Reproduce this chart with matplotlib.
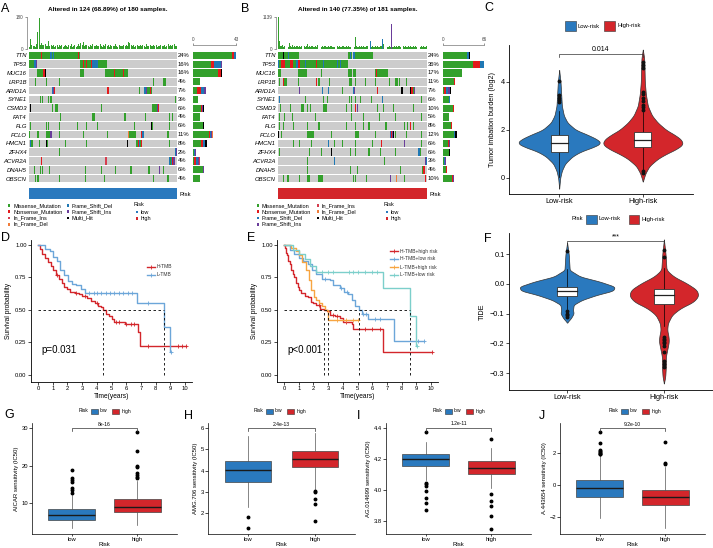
import numpy as np
import matplotlib
matplotlib.use("Agg")
import matplotlib.pyplot as plt
import matplotlib.transforms as mtrans
from matplotlib.patches import Rectangle

plt.rcParams['font.family'] = ['Liberation Sans', 'DejaVu Sans']

# ---------------- oncoplot data ----------------
GENES = ['TTN', 'TP53', 'MUC16', 'LRP1B', 'ARID1A', 'SYNE1', 'CSMD3', 'FAT4',
         'FLG', 'PCLO', 'HMCN1', 'ZFHX4', 'ACVR2A', 'DNAH5', 'OBSCN']
A_pct = ['24%', '16%', '16%', '4%', '7%', '3%', '6%', '4%', '6%', '11%', '8%', '2%', '4%', '6%', '4%']
B_pct = ['24%', '36%', '17%', '11%', '7%', '6%', '10%', '5%', '8%', '12%', '6%', '6%', '3%', '4%', '10%']

# "first-last:code" per gene; M missense, N nonsense, D fs del, I fs ins,
# S in-frame ins, L in-frame del, K multi hit
A_muts = [
    "0-9:M 10:N 11-17:M 18:D 19:M 20:D 21-40:M 41:N 42:M",
    "0-3:M 4-5:D 6:I 43-44:M 45:N 46-47:M 48:N 49-51:M 52:N 53-57:D 58-64:M",
    "7-11:M 12:N 13:K 43-45:M 64-70:M 71:N 72-78:M 79:N 80-82:M",
    "5:M 14:M 25:M 104:M 112-114:M",
    "19:D 20:I 21:N 65-66:N 92:M 96-97:D 98:I 99-100:M 101:N 102:M",
    "9:M 11:M 16:M 18:M 122:M",
    "1:K 19:M 22-23:M 60:M 103-106:M 107:I 108:N",
    "26:M 53:M 54:M 80:M 97:M 117:M 120:M",
    "1:M 14:M 16:M 25:M 40:M 48:M 57:M 88:M 102:K 103:M 117:M",
    "0:M 7:M 14-17:M 18:I 25:M 45:M 65:M 83:L 84-89:M 94:N 95:D 116:M",
    "1:D 2:M 8:M 14:K 15:M 30:M 48:M 82:K 90:M 91:N 92:D 93:M 94:N 117:M",
    "25:M 122:D 123:I",
    "10:N 64:S 117:D 118:M 119:D 120:N 121:I",
    "4:M 9:M 11:M 17:M 47:M 60:M 72:M 85:M 100:M 109:I 112:M",
    "5:M 7:M 25:M 47:M 63:M 104:M 116:M",
]
B_muts = [
    "0-4:M 5:K 6-8:M 9:D 10-19:M 66-67:M 68:D 69:M 70-71:D 72-88:M",
    "0:D 1-2:M 3-6:N 7-10:M 11-13:N 14-16:M 17-18:D 19-20:N 21-24:M 25:D 26-35:M "
    "36:N 37-41:M 42:D 43-54:M 55:D 56-57:M 58:D 59-65:M",
    "0-2:M 19-26:M 40:M 66-72:M 91:M 92:N 93-102:M",
    "1:M 5:N 6-7:M 19:M 36:N 38:M 48:M 67-69:M 72:M 82:M 91:M 104:M 110-112:M 114:M 120:M",
    "20:I 41:D 47:D 60:M 70:D 71:I 93:N 116:K 124:K 125:N 126:N 127:M 128:I",
    "1:D 25:M 42:M 46:M 67:M 69:M 72:M 77:M 87:M 98:D 134:M",
    "2:M 11:M 22-23:M 27:M 30:M 42-45:M 64:M 69:M 72:N 74:I 93:M 99:M 108:M 127:M",
    "1:M 6:M 13:M 35:M 69:M 80:M 95:M 110:M 134:M",
    "1:M 5:M 14:M 27:M 38:M 64:M 72:M 80:M 85:M 101:M 118:M 121:M 124:N 127:M",
    "0:K 3:M 27-33:M 50:M 72-75:M 91:M 105:D 106:N 107:I 108:K 110:M 120:M 134:M",
    "14:M 20:M 31:M 47:D 53:M 60:M 72:M 88:M 97:N 118:I 134:M",
    "1:M 29:M 40:M 50:K 68:M 72:M 85:M 96:M 110:M 132:D 133:M",
    "27:M 53:D 100:M 138:I 139:D",
    "27:M 68:M 74:M 115:M 135:M 136-137:N",
    "5:M 8-9:M 20:M 27-29:M 38-41:M 70:M 72:M 83:M 105:I 111:L 118:M 138:N",
]

A_tmb = [14, 55, 22, 18, 15, 12, 30, 95, 175, 22, 35,
         24, 20, 28, 16, 18, 45, 17, 24, 15, 20,
         14, 18, 22, 12, 20, 16, 25, 14, 19, 22,
         16, 13, 20, 18, 26, 12, 17, 22, 14, 19,
         27, 18, 33, 20, 38, 16, 22, 25, 18, 14,
         20, 16, 26, 18, 15, 22, 19, 16, 28, 17,
         14, 21, 18, 26, 16, 20, 14, 23, 17, 19,
         16, 30, 18, 14, 22, 16, 19, 15, 20, 17,
         24, 18, 38, 33, 20, 16, 22, 14, 18, 24,
         16, 19, 22, 15, 20, 17, 14, 26, 18, 16,
         22, 15, 19, 24, 17, 20, 14, 18, 16, 21,
         19, 16, 22, 14, 18, 27, 17, 20, 15, 22,
         30, 16, 19]
A_tmb_max = 180
B_tmb = [1139, 300, 120, 90, 150, 80, 110, 940, 100, 70,
         200, 90, 60, 130, 80, 100, 70, 120, 90, 60,
         110, 80, 100, 70, 90, 60, 120, 180, 80, 100,
         70, 90, 110, 60, 80, 100, 70, 150, 90, 60,
         80, 100, 70, 120, 90, 60, 80, 110, 70, 90,
         100, 60, 80, 70, 120, 90, 60, 100, 80, 70,
         90, 110, 60, 80, 100, 70, 90, 60, 80, 120,
         100, 70, 440, 90, 60, 80, 110, 70, 90, 60,
         100, 80, 70, 120, 90, 60, 290, 80, 100, 70,
         60, 90, 80, 110, 70, 60, 90, 100, 350, 180,
         70, 90, 60, 80, 100, 70, 890, 60, 80, 110,
         70, 90, 60, 100, 120, 80, 70, 90, 60, 100,
         80, 70, 110, 60, 90, 80, 70, 100, 60, 90,
         80, 110, 70, 60, 90, 80, 100, 70, 60, 90]
B_tmb_max = 1139
B_tmb_cols = {86: 'D', 98: 'D', 106: 'I'}

VC = {'M': '#33A02C', 'N': '#E31A1C', 'D': '#1F78B4', 'I': '#6A3D9A',
      'S': '#D53E4F', 'L': '#F07C3A', 'K': '#000000'}
VNAME = {'M': 'Missense_Mutation', 'N': 'Nonsense_Mutation', 'D': 'Frame_Shift_Del',
         'I': 'Frame_Shift_Ins', 'S': 'In_Frame_Ins', 'L': 'In_Frame_Del', 'K': 'Multi_Hit'}
BLUE, RED = '#2A79BE', '#D3262B'

# ---------------- survival data ----------------
D_h_t = [0, 0.15, 0.3, 0.5, 0.7, 0.85, 1.0, 1.2, 1.4, 1.6, 1.8, 2.0, 2.2, 2.5, 2.8, 3.0,
         3.3, 3.6, 3.9, 4.1, 4.3, 4.45, 4.6, 4.8, 5.0, 5.2, 5.9, 6.8, 6.95]
D_h_s = [1.0, 0.97, 0.93, 0.9, 0.87, 0.84, 0.81, 0.77, 0.74, 0.71, 0.68, 0.66, 0.64, 0.63,
         0.62, 0.61, 0.59, 0.57, 0.55, 0.53, 0.52, 0.5, 0.47, 0.45, 0.43, 0.41, 0.39, 0.33, 0.22]
D_h_end = 10.1
D_h_cens = [1.3, 2.6, 3.2, 4.0, 5.3, 5.5, 6.0, 6.3, 6.5, 7.5, 9.5, 9.8, 10.1]
D_l_t = [0, 0.5, 0.8, 1.0, 1.3, 1.5, 1.8, 2.05, 2.3, 2.6, 2.9, 3.2, 6.75, 8.55, 8.95]
D_l_s = [1.0, 0.97, 0.95, 0.91, 0.88, 0.81, 0.77, 0.72, 0.7, 0.69, 0.66, 0.63, 0.55, 0.37, 0.18]
D_l_end = 9.05
D_l_cens = [3.5, 3.8, 4.0, 4.3, 4.6, 4.9, 5.2, 5.5, 5.8, 6.1, 6.4, 7.5, 9.05]
D_medians = [4.45, 8.55]

E_r_t = [0, 0.05, 0.1, 0.15, 0.2, 0.25, 0.3, 0.4, 0.5, 0.6, 0.7, 0.84, 0.95, 1.05, 1.18,
         1.4, 1.64, 1.86, 2.0, 2.2, 2.43, 2.75, 2.93, 3.1, 3.5, 3.8, 4.0, 4.6, 4.7, 6.75]
E_r_s = [1.0, 0.98, 0.96, 0.94, 0.92, 0.9, 0.88, 0.85, 0.81, 0.78, 0.75, 0.71, 0.68, 0.65,
         0.63, 0.61, 0.6, 0.56, 0.55, 0.54, 0.51, 0.5, 0.49, 0.46, 0.45, 0.44, 0.41, 0.39, 0.35, 0.18]
E_r_end = 10.05
E_r_cens = [2.4, 3.3, 3.6, 4.2, 5.5, 6.0, 6.5, 10.05]
E_b_t = [0, 0.4, 0.7, 1.0, 1.3, 1.6, 1.9, 2.2, 2.55, 3.1, 3.35, 3.8, 4.1, 4.35, 4.6, 4.8,
         5.1, 5.3, 5.7, 7.5]
E_b_s = [1.0, 0.96, 0.93, 0.9, 0.88, 0.85, 0.81, 0.78, 0.74, 0.73, 0.69, 0.67, 0.64, 0.62,
         0.58, 0.53, 0.5, 0.47, 0.43, 0.26]
E_b_end = 9.5
E_b_cens = [2.8, 3.9, 4.3, 5.4, 5.6, 6.2, 6.5, 9.1, 9.5]
E_o_t = [0, 0.5, 0.8, 1.0, 1.2, 1.5, 1.7, 1.86, 2.05, 2.2, 2.4, 2.55, 2.77, 3.0]
E_o_s = [1.0, 0.98, 0.95, 0.92, 0.87, 0.81, 0.73, 0.65, 0.6, 0.58, 0.55, 0.53, 0.5, 0.42]
E_o_end = 5.05
E_o_cens = [3.6, 4.2, 4.7, 5.05]
E_t_t = [0, 0.6, 1.0, 1.4, 1.8, 2.2, 6.75, 8.6, 8.95]
E_t_s = [1.0, 0.96, 0.93, 0.89, 0.84, 0.79, 0.667, 0.45, 0.22]
E_t_end = 9.05
E_t_cens = [2.6, 3.0, 3.3, 4.4, 4.7, 5.0, 5.5, 6.0, 6.3, 9.05]
E_medians = [2.75, 3.0, 5.1, 8.6]

# ---------------- violin data (value, half width) ----------------
C_low_y = [-0.45, 0.0, 0.3, 0.6, 0.9, 1.1, 1.3, 1.45, 1.6, 1.8, 2.0, 2.3, 2.6, 3.0, 3.5, 4.0, 4.5]
C_low_w = [0, .012, .032, .072, .16, .26, .42, .5, .46, .34, .2, .1, .056, .032, .024, .016, 0]
C_high_y = [-0.15, 0.2, 0.5, 0.8, 1.0, 1.2, 1.4, 1.6, 1.8, 2.0, 2.3, 2.6, 3.0, 3.5, 4.0, 4.6, 5.0, 5.35]
C_high_w = [0, .032, .08, .18, .28, .4, .48, .46, .38, .28, .18, .11, .06, .036, .024, .02, .016, 0]
C_box = [dict(q1=1.09, med=1.44, q3=1.79, lo=0.05, hi=2.8, fl=[3.15, 3.25, 3.35, 3.45, 4.05]),
         dict(q1=1.3, med=1.6, q3=1.9, lo=0.35, hi=2.75,
              fl=[0.2, 0.28, 2.85, 2.95, 3.05, 3.2, 3.35, 3.5, 3.6, 4.6, 4.7, 4.85])]
F_low_y = [-0.13, -0.115, -0.099, -0.088, -0.07, -0.054, -0.037, -0.0225, -0.009, 0.008,
           0.025, 0.047, 0.1, 0.14]
F_low_w = [0, .04, .068, .061, .068, .153, .306, .476, .493, .34, .136, .027, .017, 0]
F_high_y = [-0.335, -0.312, -0.278, -0.245, -0.211, -0.194, -0.177, -0.155, -0.132, -0.104,
            -0.082, -0.06, -0.04, -0.02, 0.002, 0.025, 0.047, 0.1, 0.15]
F_high_w = [0, .014, .02, .02, .041, .051, .048, .034, .041, .085, .17, .306, .357, .34,
            .238, .102, .027, .017, 0]
F_box = [dict(q1=-0.04, med=-0.0225, q3=-0.009, lo=-0.085, hi=0.05,
              fl=[-0.092, -0.1, -0.105, -0.112, 0.11]),
         dict(q1=-0.068, med=-0.037, q3=-0.018, lo=-0.14, hi=0.055,
              fl=[-0.18, -0.185, -0.19, -0.195, -0.2, -0.21, -0.23, -0.26, -0.27, -0.28, 0.09, 0.115])]

# ---------------- drug sensitivity boxplots ----------------
G_stats = [dict(q1=5.6, med=6.9, q3=8.4, whislo=3.3, whishi=12.3,
                fliers=[12.8, 13.5, 14.0, 15.6, 16.2, 16.7, 18.8]),
           dict(q1=7.6, med=8.9, q3=11.0, whislo=4.2, whishi=15.9,
                fliers=[16.6, 17.0, 17.4, 17.9, 19.5, 20.0, 24.0, 28.8])]
H_stats = [dict(q1=3.46, med=4.01, q3=4.43, whislo=2.31, whishi=5.6, fliers=[1.83, 1.29]),
           dict(q1=4.17, med=4.54, q3=4.9, whislo=3.12, whishi=5.78,
                fliers=[3.04, 2.99, 2.68, 2.45, 1.64])]
I_stats = [dict(q1=4.157, med=4.198, q3=4.232, whislo=4.065, whishi=4.31,
                fliers=[4.37, 4.043, 4.035, 4.026, 3.994, 3.95, 3.918, 3.871]),
           dict(q1=4.103, med=4.144, q3=4.187, whislo=4.011, whishi=4.27,
                fliers=[4.327, 3.972, 3.929, 3.899, 3.832, 3.746])]
J_stats = [dict(q1=-0.76, med=-0.2, q3=0.33, whislo=-2.05, whishi=1.85,
                fliers=[1.9, 1.95, 2.0, 2.05, 2.1, 2.2, 2.63, 3.28]),
           dict(q1=-1.27, med=-0.76, q3=-0.31, whislo=-2.67, whishi=1.09,
                fliers=[1.3, 1.36, 2.69])]

W, H = 713, 548
fig = plt.figure(figsize=(W / 100, H / 100), dpi=100)


def pbox(x0, y0, x1, y1):
    return fig.add_axes([x0 / W, 1 - y1 / H, (x1 - x0) / W, (y1 - y0) / H])


ov = fig.add_axes([0, 0, 1, 1], zorder=10)
ov.set_xlim(0, W)
ov.set_ylim(H, 0)
ov.axis('off')


def parse(spec, n):
    row = [''] * n
    for tok in spec.split():
        rng, code = tok.split(':')
        a, _, b = rng.partition('-')
        for j in range(int(a), int(b or a) + 1):
            row[j] = code
    return row


def oncoplot(x0, x1, rx1, muts, pct, tmb, tmax, cols, rmax, risk_col, title):
    n = len(tmb)
    # sample tmb
    axt = pbox(x0 - 2, 17, x1, 49)
    axt.bar(np.arange(n) + 0.5, tmb, width=0.85,
            color=[VC[cols.get(j, 'M')] for j in range(n)])
    axt.set_xlim(-n * 2 / (x1 - x0), n)
    axt.set_ylim(0, tmax)
    for s in ['top', 'right', 'bottom']:
        axt.spines[s].set_visible(False)
    axt.spines['left'].set_color('#777777')
    axt.spines['left'].set_linewidth(0.5)
    axt.set_xticks([])
    axt.set_yticks([0, tmax])
    axt.tick_params(axis='y', labelsize=3.3, length=1.5, width=0.4, pad=0.8, colors='#444444')
    # matrix
    axm = pbox(x0, 51, x1, 183)
    rows = [parse(m, n) for m in muts]
    for r, row in enumerate(rows):
        axm.barh(r, n, left=0, height=0.88, color='#CCCCCC')
        idx = [j for j in range(n) if row[j]]
        axm.barh([r] * len(idx), [1.0] * len(idx), left=idx, height=0.88,
                 color=[VC[row[j]] for j in idx])
    axm.set_xlim(0, n)
    axm.set_ylim(14.5, -0.5)
    for s in axm.spines.values():
        s.set_visible(False)
    axm.set_xticks([])
    axm.set_yticks(range(len(GENES)))
    axm.set_yticklabels(GENES, fontstyle='italic', fontsize=4.2)
    axm.tick_params(length=0, pad=1.5)
    tr = mtrans.blended_transform_factory(axm.transAxes, axm.transData)
    for r, p in enumerate(pct):
        axm.text(1.006, r, p, transform=tr, fontsize=4.2, va='center', ha='left')
    # gene counts
    axr = pbox(rx1[0], 45, rx1[1], 183)
    order = ['M', 'N', 'D', 'I', 'S', 'L', 'K']
    left = np.zeros(len(rows))
    for c in order:
        cnt = np.array([row.count(c) for row in rows])
        axr.barh(range(len(rows)), cnt, left=left, height=0.8, color=VC[c])
        left += cnt
    axr.set_ylim(14.5, -1.18)
    axr.set_xlim(0, rmax)
    axr.xaxis.tick_top()
    for s in ['bottom', 'left', 'right']:
        axr.spines[s].set_visible(False)
    axr.spines['top'].set_linewidth(0.5)
    axr.spines['top'].set_color('#777777')
    axr.set_yticks([])
    axr.set_xticks([0, rmax])
    axr.tick_params(axis='x', labelsize=3.3, length=1.5, width=0.4, pad=0.8, colors='#444444')
    # risk annotation: every sample shares one risk group
    axk = pbox(x0, 188, x1, 199)
    axk.barh(0.5, n, left=0, height=1.0, color=risk_col)
    axk.set_xlim(0, n)
    axk.set_ylim(0, 1)
    axk.axis('off')
    ov.text(x1 + 3, 194, 'Risk', fontsize=4.2, va='center')
    ov.text((x0 + x1) / 2 + 5, 9, title, fontsize=4.6, fontweight='bold', ha='center', va='center')


def mut_legend(items):
    for x, y, key in items:
        ov.add_patch(Rectangle((x - 1.3, y - 1.3), 2.6, 2.6, color=VC[key], lw=0))
        ov.text(x + 4, y, VNAME[key], fontsize=4, va='center')


def risk_legend(x, y):
    ov.text(x, y, 'Risk', fontsize=4, va='center')
    for k, (lab, col) in enumerate([('low', BLUE), ('high', RED)]):
        yy = y + 7 + 6.5 * k
        ov.add_patch(Rectangle((x + 2.8, yy - 1.3), 2.6, 2.6, color=col, lw=0))
        ov.text(x + 8, yy, lab, fontsize=4, va='center')


oncoplot(29, 177, (193, 236), A_muts, A_pct, A_tmb, A_tmb_max, {}, 43, BLUE,
         'Altered in 124 (68.89%) of 180 samples.')
oncoplot(278, 427, (443, 484), B_muts, B_pct, B_tmb, B_tmb_max, B_tmb_cols, 66, RED,
         'Altered in 140 (77.35%) of 181 samples.')
mut_legend([(9, 205.5, 'M'), (9, 211.7, 'N'), (9, 218, 'S'), (9, 224.3, 'L'),
            (68, 205.5, 'D'), (68, 211.7, 'I'), (68, 218, 'K')])
mut_legend([(258, 205.5, 'M'), (258, 211.7, 'N'), (258, 218, 'D'), (258, 224.3, 'I'),
            (318, 205.5, 'S'), (318, 211.7, 'L'), (318, 218, 'K')])
risk_legend(133, 205)
risk_legend(383, 205)


def style(ax, fs, lw=0.6, pad=1.2):
    for s in ['top', 'right']:
        ax.spines[s].set_visible(False)
    for s in ['left', 'bottom']:
        ax.spines[s].set_linewidth(lw)
    ax.tick_params(labelsize=fs, length=2, width=0.5, pad=pad)


# ---------------- survival panels ----------------
def km(ax, t, s, end, cens, color):
    tt = list(t) + [end]
    ss = list(s) + [s[-1]]
    ax.step(tt, ss, where='post', color=color, lw=1.0)
    cy = [ss[np.searchsorted(tt, c, side='right') - 1] for c in cens]
    ax.plot(cens, cy, '+', color=color, ms=2.8, mew=0.6)


def km_axes(x0, x1, curves, medians, ptxt, lx, ly):
    ax = pbox(x0, 240, x1, 382)
    for t, s, e, c, col, lab in curves:
        km(ax, t, s, e, c, col)
    ax.plot([0, max(medians)], [0.5, 0.5], ls=(0, (3, 3)), color='black', lw=0.6)
    for m in medians:
        ax.plot([m, m], [0, 0.5], ls=(0, (3, 3)), color='black', lw=0.6)
    ax.set_xlim(-0.48, 10.48)
    ax.set_ylim(-0.054, 1.038)
    ax.set_xticks(range(11))
    ax.set_yticks([0, 0.25, 0.5, 0.75, 1.0])
    ax.set_yticklabels(['0.00', '0.25', '0.50', '0.75', '1.00'])
    style(ax, 4.2)
    ax.set_xlabel('Time(years)', fontsize=4.8, labelpad=1)
    ax.set_ylabel('Survival probability', fontsize=4.8, labelpad=2)
    ax.text(0.2, 0.19, ptxt, fontsize=7, va='center')
    for k, (t, s, e, c, col, lab) in enumerate(curves):
        yy = ly + 8 * k
        ov.plot([lx, lx + 8], [yy, yy], color=col, lw=1)
        ov.plot([lx + 4], [yy], '+', color=col, ms=2.8, mew=0.6)
        ov.text(lx + 10, yy, lab, fontsize=3.6, va='center', color='#333333')


LBLUE, ORANGE, TEAL = '#6CA6D9', '#F7A541', '#7CCFCB'
km_axes(31, 192, [(D_h_t, D_h_s, D_h_end, D_h_cens, RED, 'H-TMB'),
                  (D_l_t, D_l_s, D_l_end, D_l_cens, LBLUE, 'L-TMB')],
        D_medians, 'p=0.031', 147, 266.5)
km_axes(277, 438, [(E_r_t, E_r_s, E_r_end, E_r_cens, RED, 'H-TMB+high risk'),
                   (E_b_t, E_b_s, E_b_end, E_b_cens, LBLUE, 'H-TMB+low risk'),
                   (E_o_t, E_o_s, E_o_end, E_o_cens, ORANGE, 'L-TMB+high risk'),
                   (E_t_t, E_t_s, E_t_end, E_t_cens, TEAL, 'L-TMB+low risk')],
        E_medians, 'p<0.001', 390, 251)


# ---------------- violin panels ----------------
def violin(ax, pos, ys, ws, color):
    yy = np.linspace(ys[0], ys[-1], 300)
    ww = np.interp(yy, ys, ws)
    k = np.ones(11) / 11
    ww = np.convolve(np.pad(ww, 5, mode='edge'), k, mode='valid')
    ax.fill_betweenx(yy, pos - ww, pos + ww, facecolor=color, edgecolor='#333333', lw=0.5)


def inner_box(ax, pos, b):
    ax.plot([pos, pos], [b['lo'], b['q1']], color='black', lw=0.5)
    ax.plot([pos, pos], [b['q3'], b['hi']], color='black', lw=0.5)
    ax.add_patch(Rectangle((pos - 0.1, b['q1']), 0.2, b['q3'] - b['q1'],
                           facecolor='white', edgecolor='#333333', lw=0.6, zorder=3))
    ax.plot([pos - 0.1, pos + 0.1], [b['med'], b['med']], color='#222222', lw=0.9, zorder=4)
    ax.plot([pos] * len(b['fl']), b['fl'], 'o', color='#111111', ms=1.8, zorder=4)


axc = pbox(509, 45, 693, 194)
violin(axc, 1, C_low_y, C_low_w, BLUE)
violin(axc, 2, C_high_y, C_high_w, RED)
for i, b in enumerate(C_box):
    inner_box(axc, i + 1, b)
axc.plot([1, 1, 2, 2], [5.05, 5.17, 5.17, 5.05], color='#333333', lw=0.5)
axc.text(1.5, 5.22, '0.014', fontsize=5, ha='center', va='bottom')
axc.set_xlim(0.4, 2.6)
axc.set_ylim(-0.67, 5.54)
axc.set_xticks([1, 2])
axc.set_xticklabels(['Low-risk', 'High-risk'])
axc.set_yticks([0, 2, 4])
style(axc, 5.3)
axc.set_ylabel('Tumor imbation burden (log2)', fontsize=5.2, labelpad=3)

axf = pbox(509, 233, 722, 390)
violin(axf, 1, F_low_y, F_low_w, BLUE)
violin(axf, 2, F_high_y, F_high_w, RED)
for i, b in enumerate(F_box):
    inner_box(axf, i + 1, b)
axf.plot([1, 1, 2, 2], [0.14, 0.145, 0.145, 0.14], color='#333333', lw=0.5)
axf.text(1.5, 0.148, '***', fontsize=5, ha='center', va='bottom')
axf.set_xlim(0.4, 2.6)
axf.set_ylim(-0.357, 0.1717)
axf.set_xticks([1, 2])
axf.set_xticklabels(['Low-risk', 'High-risk'])
axf.set_yticks([-0.3, -0.2, -0.1, 0.0, 0.1])
style(axf, 5.3)
axf.set_ylabel('TIDE', fontsize=5.2, labelpad=3)


def risk_box_legend(x, y, labels, fs, bw, bh):
    ov.text(x, y, 'Risk', fontsize=fs, va='center', ha='right')
    cx = x + 3
    for lab, col in zip(labels, [BLUE, RED]):
        ov.add_patch(Rectangle((cx, y - bh / 2), bw, bh, facecolor=col, edgecolor='#333333', lw=0.4))
        ov.text(cx + bw + 2, y, lab, fontsize=fs, va='center')
        cx += bw + 2 + len(lab) * fs * 0.78 + 4


ov.add_patch(Rectangle((565, 20.5), 10.5, 10.5, facecolor=BLUE, edgecolor='#333333', lw=0.4))
ov.text(578, 26, 'Low-risk', fontsize=4.2, va='center')
ov.add_patch(Rectangle((604, 20.5), 10.5, 10.5, facecolor=RED, edgecolor='#333333', lw=0.4))
ov.text(617, 26, 'High-risk', fontsize=4.2, va='center')
risk_box_legend(583, 219, ['Low-risk', 'High-risk'], 4.2, 10.5, 9)


# ---------------- drug sensitivity ----------------
def drug(x0, x1, stats, ylim, yticks, ylabel, bracket, tip, ptxt):
    ax = pbox(x0, 423, x1, 534)
    bp = ax.bxp(stats, positions=[1, 2], widths=0.7, patch_artist=True, showcaps=False,
                boxprops=dict(lw=0.5, edgecolor='#444444'),
                medianprops=dict(color='#1a1a1a', lw=1.0),
                whiskerprops=dict(color='#555555', lw=0.5),
                flierprops=dict(marker='o', ms=1.8, mfc='black', mec='black'))
    for patch, col in zip(bp['boxes'], [BLUE, RED]):
        patch.set_facecolor(col)
    ax.plot([1, 1, 2, 2], [bracket - tip, bracket, bracket, bracket - tip], color='#333333', lw=0.5,
            clip_on=False)
    ax.text(1.5, bracket + tip * 0.4, ptxt, fontsize=3.6, ha='center', va='bottom')
    ax.set_xlim(0.4, 2.6)
    ax.set_ylim(*ylim)
    ax.set_yticks(yticks)
    ax.set_xticks([1, 2])
    ax.set_xticklabels(['low', 'high'])
    style(ax, 4.2, lw=0.5, pad=0.8)
    ax.tick_params(axis='x', length=1.5, pad=0.5)
    ax.set_xlabel('Risk', fontsize=4.3, labelpad=0)
    ax.set_ylabel(ylabel, fontsize=4.3, labelpad=2)
    return ax


drug(32, 177, G_stats, (1.84, 31.3), [10, 20, 30], 'AICAR sensitivity (IC50)', 30, 0.8, '8e-16')
drug(208, 355, H_stats, (1.02, 6.23), [2, 3, 4, 5, 6], 'AMG.706 sensitivity (IC50)', 6.0, 0.14, '2.4e-13')
drug(386, 531, I_stats, (3.717, 4.43), [3.8, 4.0, 4.2, 4.4], 'AG.014699 sensitivity (IC50)', 4.4, 0.02, '1.2e-11')
drug(560, 705, J_stats, (-3.05, 3.85), [-2, 0, 2], 'A.443654 sensitivity (IC50)', 3.55, 0.18, '9.2e-10')
for x in [88, 263, 442, 618]:
    risk_box_legend(x, 411, ['low', 'high'], 3.6, 7, 5)

# panel letters
for lab, x, y in [('A', 1, 9), ('B', 241, 9), ('C', 484, 8), ('D', 1, 238), ('E', 247, 238),
                  ('F', 484, 239), ('G', 4, 415), ('H', 184, 416), ('I', 357, 416), ('J', 539, 416)]:
    ov.text(x, y, lab, fontsize=9, va='center', ha='left')

fig.savefig('out.png', dpi=100)
